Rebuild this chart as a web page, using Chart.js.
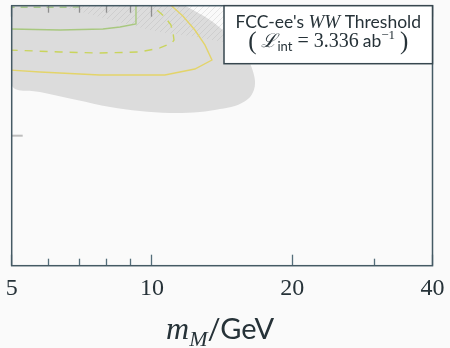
<!DOCTYPE html>
<html>
<head>
<meta charset="utf-8">
<script src="https://cdn.jsdelivr.net/npm/chart.js@4"></script>
<style>
    html, body { margin: 0; padding: 0; background: #fafafa; }
</style>
</head>
<body>
<canvas id="thresholdChart" width="450" height="348"></canvas>
<script>
    // axis ticks (x is log scale in GeV, y is log10 of the coupling)
    const xTicks = [5, 6, 7, 8, 9, 10, 20, 30, 40];
    const xTickLabels = ['5', '10', '20', '40'];
    const yTicks = [-8];

    // grey excluded region (closed outline)
    const greyX = [5.0, 5.0, 5.75, 6.90, 8.13, 9.42, 10.93, 12.67, 13.99, 15.06, 16.07, 16.55, 16.63, 16.38, 15.98, 15.29, 14.34, 13.32, 12.36, 11.65];
    const greyY = [-6.95, -7.61, -7.664, -7.725, -7.779, -7.81, -7.825, -7.818, -7.795, -7.772, -7.718, -7.648, -7.572, -7.479, -7.395, -7.302, -7.202, -7.11, -7.041, -6.99];

    // hatched region (closed outline)
    const hatchX = [6.19, 7.73, 8.97, 10.40, 12.06, 14.34, 20.77, 41, 41, 6.0];
    const hatchY = [-6.99, -7.087, -7.148, -7.202, -7.233, -7.279, -7.341, -7.379, -6.95, -6.95];

    // contours
    const greenDashX = [4.9, 6.4, 7.0, 7.4];
    const greenDashY = [-7.012, -7.012, -7.01, -6.99];
    const greenX = [4.95, 6.35, 7.85, 8.54, 9.24, 9.24];
    const greenY = [-7.179, -7.187, -7.179, -7.164, -7.141, -6.99];
    const limeDashX = [4.95, 6.35, 7.73, 9.42, 10.40, 11.04, 11.15, 11.09, 10.98, 10.66, 10.25, 9.9];
    const limeDashY = [-7.341, -7.356, -7.364, -7.356, -7.325, -7.287, -7.264, -7.202, -7.148, -7.087, -7.033, -6.99];
    const yellowX = [4.95, 5.75, 7.73, 10.66, 12.36, 13.45, 12.99, 12.36, 11.65, 10.93];
    const yellowY = [-7.495, -7.51, -7.533, -7.533, -7.487, -7.418, -7.302, -7.187, -7.079, -6.99];

    const toPoints = (xs, ys) => xs.map((v, i) => ({ x: v, y: ys[i] }));

    // diagonal hatch pattern
    function makeHatch() {
        const c = document.createElement('canvas');
        c.width = 6; c.height = 6;
        const g = c.getContext('2d');
        g.strokeStyle = 'rgba(160,160,160,0.22)';
        g.lineWidth = 1;
        g.beginPath();
        g.moveTo(0, 6); g.lineTo(6, 0);
        g.moveTo(-1, 1); g.lineTo(1, -1);
        g.moveTo(5, 7); g.lineTo(7, 5);
        g.stroke();
        return g.createPattern(c, 'repeat');
    }

    const serif = '"Liberation Serif", serif';
    const sans = 'Lato, "Open Sans", sans-serif';

    function drawRuns(ctx, runs, cx, baseline) {
        let w = 0;
        runs.forEach(r => { ctx.font = r.font; r.w = ctx.measureText(r.text).width; w += r.w; });
        let xx = cx - w / 2;
        runs.forEach(r => {
            ctx.font = r.font;
            ctx.fillText(r.text, xx, baseline + (r.dy || 0));
            xx += r.w;
        });
    }

    const decorPlugin = {
        id: 'decor',
        afterDatasetsDraw(chart) {
            const { ctx, chartArea: a, scales } = chart;
            const x = scales.x, y = scales.y;
            ctx.save();
            ctx.lineCap = 'butt';

            // inward x ticks, bottom and top (snapped to the pixel grid)
            x.ticks.forEach(t => {
                const px = Math.round(x.getPixelForValue(t.value) - 0.5) + 0.5;
                const len = xTickLabels.includes(String(t.value)) ? 11 : 7;
                ctx.lineWidth = 1.3;
                ctx.strokeStyle = '#546e7a';
                ctx.beginPath();
                ctx.moveTo(px, a.bottom);
                ctx.lineTo(px, a.bottom - len);
                ctx.stroke();
                ctx.strokeStyle = '#8e8e8e';
                ctx.beginPath();
                ctx.moveTo(px, a.top);
                ctx.lineTo(px, a.top + len);
                ctx.stroke();
            });

            // inward y tick
            y.ticks.forEach(t => {
                const py = y.getPixelForValue(t.value);
                ctx.strokeStyle = '#bdbdbd';
                ctx.lineWidth = 2;
                ctx.beginPath();
                ctx.moveTo(a.left, py);
                ctx.lineTo(a.left + 11, py);
                ctx.stroke();
            });

            // frame
            ctx.strokeStyle = '#455a64';
            ctx.lineWidth = 1.5;
            ctx.strokeRect(a.left, a.top, a.right - a.left, a.bottom - a.top);

            // text box
            const bx = 224, bw = a.right - bx, bh = 58;
            ctx.fillStyle = '#ffffff';
            ctx.fillRect(bx, a.top, bw, bh);
            ctx.strokeStyle = '#37474f';
            ctx.strokeRect(bx, a.top, bw, bh);

            ctx.fillStyle = '#263238';
            ctx.textBaseline = 'alphabetic';
            const cx = bx + bw / 2;
            drawRuns(ctx, [
                { text: "FCC-ee's ", font: '17.5px ' + sans },
                { text: 'WW', font: 'italic 19px ' + serif },
                { text: ' Threshold', font: '17.5px ' + sans }
            ], cx, 28);
            drawRuns(ctx, [
                { text: '(\u2009', font: '25px ' + serif, dy: 2 },
                { text: '\u2112', font: 'italic 19px "DejaVu Serif", serif' },
                { text: 'int', font: '13px ' + sans, dy: 4 },
                { text: ' = 3.336\u2009', font: '20px ' + serif },
                { text: 'ab', font: '17.5px ' + sans },
                { text: '\u22121', font: '13px ' + serif, dy: -8 },
                { text: '\u2009)', font: '25px ' + serif, dy: 2 }
            ], cx, 47);

            // x axis title
            drawRuns(ctx, [
                { text: 'm', font: 'italic 32px ' + serif },
                { text: 'M', font: 'italic 22px ' + serif, dy: 7 },
                { text: '/GeV', font: '29px ' + sans }
            ], (a.left + a.right) / 2 - 2, 339);
            ctx.restore();
        }
    };

    const line = (xs, ys, color, dash, order) => ({
        data: toPoints(xs, ys),
        borderColor: color,
        borderWidth: 1.4,
        borderDash: dash,
        pointRadius: 0,
        fill: false,
        tension: 0,
        order: order
    });

    const ctx = document.getElementById('thresholdChart').getContext('2d');
    new Chart(ctx, {
        type: 'line',
        data: {
            datasets: [
                {
                    data: toPoints(greyX, greyY),
                    backgroundColor: '#dcdcdc',
                    borderWidth: 0,
                    pointRadius: 0,
                    fill: 'shape',
                    tension: 0.35,
                    order: 10
                },
                {
                    data: toPoints(hatchX, hatchY),
                    backgroundColor: makeHatch(),
                    borderWidth: 0,
                    pointRadius: 0,
                    fill: 'shape',
                    tension: 0.3,
                    order: 9
                },
                line(yellowX, yellowY, '#e3d46a', [], 4),
                line(limeDashX, limeDashY, '#c9d45c', [8, 7], 3),
                line(greenX, greenY, '#a8c87f', [], 2),
                line(greenDashX, greenDashY, '#a5c88a', [7, 6], 1)
            ]
        },
        options: {
            responsive: false,
            animation: false,
            devicePixelRatio: 1,
            layout: { padding: { left: 11.7, right: 17.5, top: 5.7, bottom: 38.3 } },
            scales: {
                x: {
                    type: 'logarithmic',
                    min: 5,
                    max: 40,
                    afterBuildTicks: s => { s.ticks = xTicks.map(v => ({ value: v })); },
                    afterFit: s => { s.paddingLeft = 0; s.paddingRight = 0; s.height = 44; },
                    grid: { display: false },
                    border: { display: false },
                    ticks: {
                        autoSkip: false,
                        maxRotation: 0,
                        padding: 1,
                        color: '#263238',
                        font: { family: serif, size: 24 },
                        callback: v => xTickLabels.includes(String(v)) ? String(v) : ''
                    }
                },
                y: {
                    type: 'linear',
                    display: false,
                    min: -9,
                    max: -7,
                    afterBuildTicks: s => { s.ticks = yTicks.map(v => ({ value: v })); }
                }
            },
            plugins: {
                legend: { display: false },
                tooltip: { enabled: false }
            }
        },
        plugins: [decorPlugin]
    });
</script>
</body>
</html>
